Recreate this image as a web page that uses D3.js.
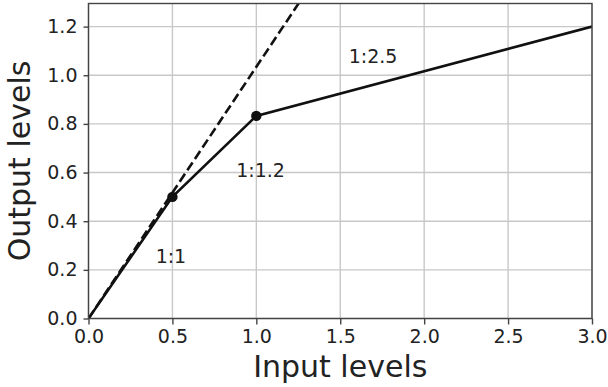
<!DOCTYPE html>
<html>
<head>
<meta charset="utf-8">
<script src="https://cdn.jsdelivr.net/npm/d3@7"></script>
<style>
  body { margin: 0; background: #fff; }
  text { font-family: "DejaVu Sans", sans-serif; fill: #222; }
</style>
</head>
<body>
<div id="chart"></div>
<script>
// compressor curve: knee points
const inputLevels = [0.0, 0.5, 1.0, 3.0];
const outputLevels = [0.0, 0.5, 0.833, 1.2];
// 1:1 reference (dashed)
const refInput = [0.0, 1.3];
const refOutput = [0.0, 1.345];
// knees with markers
const kneeInput = [0.5, 1.0];
const kneeOutput = [0.5, 0.833];
// ratio annotations
const ratioLabels = ["1:1", "1:1.2", "1:2.5"];
const ratioX = [0.4, 0.88, 1.55];
const ratioY = [0.23, 0.58, 1.05];
const xTicks = [0.0, 0.5, 1.0, 1.5, 2.0, 2.5, 3.0];
const yTicks = [0.0, 0.2, 0.4, 0.6, 0.8, 1.0, 1.2];

const W = 608, H = 387;
const margin = { top: 3.5, right: 16, bottom: 68.5, left: 88.5 };
const width = W - margin.left - margin.right;
const height = H - margin.top - margin.bottom;

const root = d3.select("#chart").append("svg")
    .attr("width", W)
    .attr("height", H);
const svg = root.append("g")
    .attr("transform", `translate(${margin.left}, ${margin.top})`);

const x = d3.scaleLinear().domain([0, 3.0]).range([0, width]);
const y = d3.scaleLinear().domain([0, 1.295]).range([height, 0]);

svg.append("defs").append("clipPath").attr("id", "clip")
    .append("rect").attr("width", width).attr("height", height);

// grid
svg.append("g").selectAll("line").data(xTicks).join("line")
    .attr("x1", d => x(d)).attr("x2", d => x(d))
    .attr("y1", 0).attr("y2", height)
    .attr("stroke", "#c8c8c8").attr("stroke-width", 1.4);
svg.append("g").selectAll("line").data(yTicks).join("line")
    .attr("y1", d => y(d)).attr("y2", d => y(d))
    .attr("x1", 0).attr("x2", width)
    .attr("stroke", "#c8c8c8").attr("stroke-width", 1.4);

const line = d3.line().x(d => x(d[0])).y(d => y(d[1]));
const plot = svg.append("g").attr("clip-path", "url(#clip)");

plot.append("path")
    .datum(d3.zip(refInput, refOutput))
    .attr("d", line)
    .attr("fill", "none")
    .attr("stroke", "#111")
    .attr("stroke-width", 2.6)
    .attr("stroke-dasharray", "9.5,4.2");

plot.append("path")
    .datum(d3.zip(inputLevels, outputLevels))
    .attr("d", line)
    .attr("fill", "none")
    .attr("stroke", "#111")
    .attr("stroke-width", 2.6);

plot.selectAll("circle").data(d3.zip(kneeInput, kneeOutput)).join("circle")
    .attr("cx", d => x(d[0]))
    .attr("cy", d => y(d[1]))
    .attr("r", 5.2)
    .attr("fill", "#111");

svg.append("g").selectAll("text").data(ratioLabels).join("text")
    .attr("x", (d, i) => x(ratioX[i]))
    .attr("y", (d, i) => y(ratioY[i]))
    .attr("font-size", 19)
    .text(d => d);

// axes
const xAxis = svg.append("g")
    .attr("transform", `translate(0, ${height})`)
    .call(d3.axisBottom(x).tickValues(xTicks).tickFormat(d3.format(".1f")).tickSize(6).tickPadding(5));
const yAxis = svg.append("g")
    .call(d3.axisLeft(y).tickValues(yTicks).tickFormat(d3.format(".1f")).tickSize(5).tickPadding(6));
[xAxis, yAxis].forEach(a => {
    a.select(".domain").remove();
    a.selectAll(".tick line").attr("stroke", "#444").attr("stroke-width", 1.4);
    a.selectAll(".tick text").attr("font-size", 19).attr("fill", "#222")
        .style("font-family", "DejaVu Sans, sans-serif");
});

svg.append("rect")
    .attr("width", width).attr("height", height)
    .attr("fill", "none").attr("stroke", "#444").attr("stroke-width", 1.4);

svg.append("text")
    .attr("x", width / 2)
    .attr("y", height + 58)
    .attr("text-anchor", "middle")
    .attr("font-size", 30)
    .text("Input levels");

svg.append("text")
    .attr("transform", "rotate(-90)")
    .attr("x", -height / 2)
    .attr("y", -margin.left + 30)
    .attr("text-anchor", "middle")
    .attr("font-size", 30)
    .text("Output levels");
</script>
</body>
</html>
